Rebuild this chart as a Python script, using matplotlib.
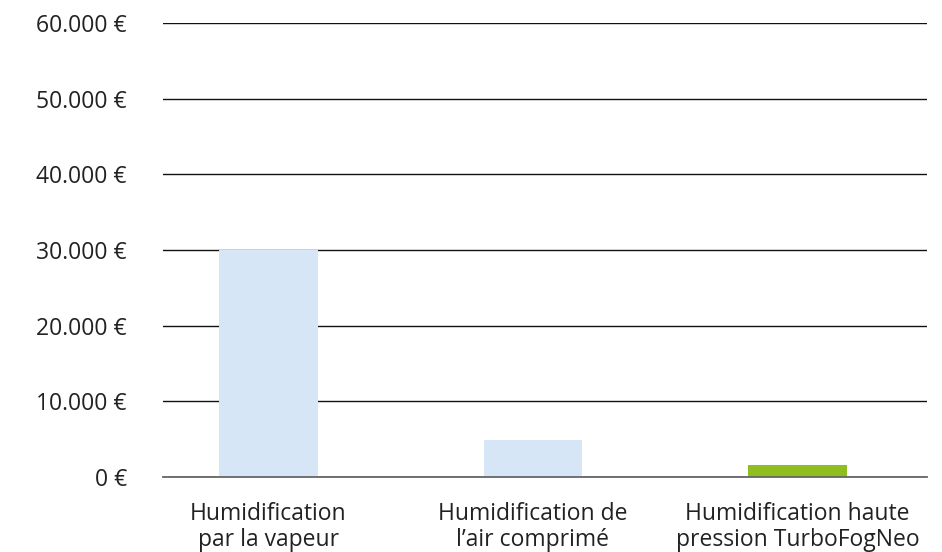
import matplotlib.pyplot as plt
from matplotlib.ticker import FuncFormatter

categories = ["Humidification\npar la vapeur", "Humidification de\nl\u2019air comprimé",
              "Humidification haute\npression TurboFogNeo"]
values = [30000, 4900, 1600]
colors = ["#d6e6f7", "#d6e6f7", "#8fbf1f"]
yticks = [0, 10000, 20000, 30000, 40000, 50000, 60000]

plt.rcParams['font.family'] = ['Open Sans', 'DejaVu Sans']

fig = plt.figure(figsize=(9.42, 5.52), dpi=100)
ax = fig.add_axes([163 / 942, 1 - 477 / 552, 764 / 942, 454 / 552])

x = range(len(categories))
ax.bar(x, values, width=0.374, color=colors, zorder=3)

ax.set_ylim(0, 60000)
ax.set_xlim(-0.399, 2.49)
ax.set_yticks(yticks)
ax.yaxis.set_major_formatter(FuncFormatter(lambda v, p: f"{int(v):,}".replace(",", ".") + " \u20ac"))
ax.grid(axis='y', color='#111111', linewidth=1, zorder=0)
ax.axhline(0, color='#666666', linewidth=1.3, zorder=4, clip_on=False)
ax.set_xticks(list(x))
ax.set_xticklabels(categories, linespacing=1.09)

for s in ax.spines.values():
    s.set_visible(False)
ax.tick_params(axis='y', length=0, pad=26, labelsize=16.5, labelcolor='#222222')
ax.tick_params(axis='x', length=0, pad=18, labelsize=16.5, labelcolor='#222222')

fig.savefig("out.png", dpi=100)
